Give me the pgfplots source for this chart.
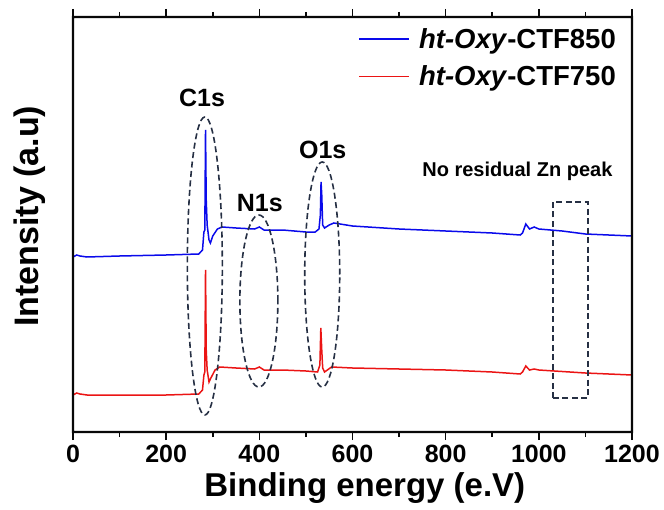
\documentclass[border=0pt]{standalone}
\usepackage{pgfplots}
\pgfplotsset{compat=1.18}
\usepackage{fontspec}
\setmainfont{Liberation Sans}
\definecolor{xblue}{RGB}{10,10,235}
\definecolor{xred}{RGB}{235,20,20}
\definecolor{ell}{RGB}{38,48,68}
\definecolor{framec}{RGB}{8,8,8}

\begin{document}
\begin{tikzpicture}
\path[use as bounding box] (-73pt,-77pt) rectangle (591pt,432pt);
\begin{axis}[
    scale only axis,
    width=559pt, height=415pt,
    xmin=0, xmax=1200, ymin=0, ymax=415,
    clip=false,
    xtick={0,200,...,1200},
    minor x tick num=1,
    ytick=\empty,
    tick align=outside,
    major tick length=8pt,
    minor tick length=5pt,
    every tick/.style={framec, line width=1.6pt},
    axis line style={framec, line width=2pt},
    /pgf/number format/assume math mode=true,
    /pgf/number format/set thousands separator={},
    xticklabel style={font=\fontsize{25}{28}\selectfont\bfseries, yshift=-2pt},
    xlabel={Binding energy (e.V)},
    ylabel={Intensity (a.u)},
    xlabel style={font=\fontsize{33}{36}\selectfont\bfseries, at={(axis description cs:0.522,0)}, anchor=center, yshift=-56pt},
    ylabel style={font=\fontsize{34}{36}\selectfont\bfseries, at={(axis description cs:0,0.52)}, anchor=center, yshift=43pt},
    legend style={at={(rel axis cs:0.975,0.978)}, anchor=north east, draw=none, fill=none,
      font=\fontsize{27.5}{29}\selectfont\bfseries, inner sep=0pt, row sep=12pt,
      /tikz/every odd column/.append style={column sep=7pt},
      cells={anchor=west}},
    legend image code/.code={\draw[#1, line width=1.8pt] (0pt,0pt) -- (50pt,0pt);},
  ]

  % ht-Oxy-CTF850
  \addplot[xblue, line width=1.5pt] coordinates {
    (0,175) (8,177) (15,176) (30,175) (100,176) (200,177) (270,178) (278,182)
    (281,200) (283,202) (284.5,302) (286,232) (288,207) (292,192) (295,189)
    (300,196) (310,203) (320,205) (350,204) (390,203) (400,205) (410,202)
    (450,202) (500,200) (520,200) (528,203) (531,217) (532.5,250) (534,237)
    (536,207) (540,204) (550,207) (560,209) (600,206) (700,203) (800,201)
    (900,199) (960,197) (965,199) (972,208) (980,203) (990,205) (1000,203)
    (1050,201) (1100,198) (1200,196)
  };

  % ht-Oxy-CTF750
  \addplot[xred, line width=1.5pt] coordinates {
    (0,37) (8,39) (15,38) (30,37) (100,37) (200,37) (270,38) (278,42)
    (281,57) (283,60) (284.5,162) (286,82) (288,62) (292,50) (296,54)
    (305,62) (315,65) (350,64) (390,63) (400,65) (410,62) (450,62)
    (500,61) (525,60) (530,67) (532,104) (534,82) (536,64) (540,60)
    (555,65) (600,64) (700,63) (800,62) (900,60) (960,58) (965,60)
    (972,66) (980,62) (990,63) (1000,62) (1100,59) (1200,57)
  };

  \legend{\textit{ht-Oxy}-CTF850, \textit{ht-Oxy}-CTF750}

  % frame as a filled ring
  \fill[framec, even odd rule]
    ([xshift=-1.1pt, yshift=-1.1pt]axis cs:0,0) rectangle ([xshift=1.1pt, yshift=1.1pt]axis cs:1200,415)
    ([xshift=1.1pt, yshift=1.1pt]axis cs:0,0) rectangle ([xshift=-1.1pt, yshift=-1.1pt]axis cs:1200,415);

  \begin{scope}[ell, line width=1.6pt, dash pattern=on 6pt off 3.5pt]
    \draw (axis cs:283,166) ellipse [x radius=17.5pt, y radius=149pt];
    \draw (axis cs:399,131) ellipse [x radius=19pt, y radius=86pt];
    \draw (axis cs:535,157.5) ellipse [x radius=17.5pt, y radius=112.5pt];
    \draw (axis cs:1030,34) rectangle (axis cs:1105,230);
  \end{scope}

  \node[font=\fontsize{25}{28}\selectfont\bfseries] at (axis cs:277,334) {C1s};
  \node[font=\fontsize{25}{28}\selectfont\bfseries] at (axis cs:401,229) {N1s};
  \node[font=\fontsize{25}{28}\selectfont\bfseries] at (axis cs:536,282) {O1s};
  \node[font=\fontsize{20}{22}\selectfont\bfseries] at (axis cs:954,261) {No residual Zn peak};
\end{axis}
\end{tikzpicture}
\end{document}
